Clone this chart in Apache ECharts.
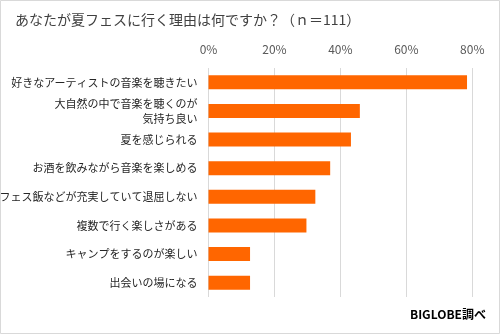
<!DOCTYPE html>
<html><head><meta charset="utf-8">
<script src="https://cdn.jsdelivr.net/npm/echarts@6/dist/echarts.min.js"></script>
<style>html,body{margin:0;padding:0;background:#fff}#c{width:500px;height:334px}</style>
</head><body><div id="c"></div>
<script>
const categories = ['好きなアーティストの音楽を聴きたい','大自然の中で音楽を聴くのが\n気持ち良い','夏を感じられる','お酒を飲みながら音楽を楽しめる','フェス飯などが充実していて退屈しない','複数で行く楽しさがある','キャンプをするのが楽しい','出会いの場になる'];
const values = [78.4, 45.9, 43.2, 36.9, 32.4, 29.7, 12.6, 12.6];
const tickMax = 80;
const tickStep = 20;
const titleText = 'あなたが夏フェスに行く理由は何ですか？（ｎ＝111）';
const sourceText = 'BIGLOBE調べ';
const font = '"Noto Sans CJK JP", "Noto Sans", sans-serif';
const chart = echarts.init(document.getElementById('c'));
chart.setOption({
  animation: false,
  backgroundColor: '#fff',
  textStyle: {fontFamily: font},
  title: {text: titleText, left: 10, top: 8, textStyle: {fontSize: 14, fontWeight: 'normal', color: '#404040', fontFamily: font}},
  graphic: [
    {type: 'rect', shape: {x: 0.5, y: 0.5, width: 499, height: 333}, style: {fill: 'none', stroke: '#d9d9d9', lineWidth: 1}, silent: true},
    {type: 'text', right: 14, top: 308, style: {text: sourceText, fontSize: 12, fontWeight: 'bold', fill: '#000', fontFamily: font}}
  ],
  grid: {left: 208.5, right: 27.7, top: 68, bottom: 37, containLabel: false, outerBoundsMode: 'none'},
  xAxis: {type: 'value', position: 'top', min: 0, max: tickMax, interval: tickStep,
    axisLine: {show: false}, axisTick: {show: false},
    axisLabel: {formatter: '{value}%', color: '#595959', fontSize: 12, margin: 13},
    splitLine: {show: true, lineStyle: {color: '#d9d9d9', width: 1}}},
  yAxis: {type: 'category', data: categories, inverse: true,
    axisLine: {show: false}, axisTick: {show: false},
    axisLabel: {color: '#262626', fontSize: 11, margin: 11, lineHeight: 15, align: 'right'}},
  series: [{type: 'bar', data: values, barWidth: 14, itemStyle: {color: '#ff6600'}}]
});
</script></body></html>
